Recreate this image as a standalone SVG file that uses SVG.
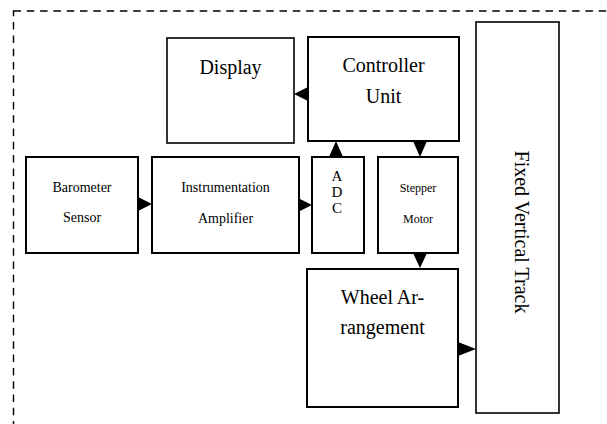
<svg xmlns="http://www.w3.org/2000/svg" width="607" height="424" viewBox="0 0 607 424">
<style>
.box{fill:#fff;stroke:#000;stroke-width:2}
.thin{stroke-width:1.6}
.t{font-family:"Liberation Serif","Times New Roman",serif;fill:#000;text-anchor:middle}
.arr{fill:#000;stroke:none}
</style>
<rect x="0" y="0" width="607" height="424" fill="#fff"/>
<rect x="13.5" y="11" width="620" height="440" fill="none" stroke="#000" stroke-width="1.4" stroke-dasharray="7.5 5.8"/>
<g id="display"><rect class="box thin" x="167" y="38" width="127" height="105"/><text class="t" x="230.5" y="74" font-size="20">Display</text></g>
<g id="controller"><rect class="box" x="308" y="37" width="151" height="104"/><text class="t" x="383.5" y="72" font-size="20">Controller</text><text class="t" x="383.5" y="103" font-size="20">Unit</text></g>
<g id="track"><rect class="box thin" x="476" y="22" width="83" height="391"/><text class="t" font-size="20" transform="translate(514.5,232) rotate(90)">Fixed Vertical Track</text></g>
<g id="barometer"><rect class="box" x="26" y="157" width="112" height="96"/><text class="t" x="82" y="192" font-size="14">Barometer</text><text class="t" x="82" y="222" font-size="14">Sensor</text></g>
<g id="amplifier"><rect class="box" x="152" y="157" width="147" height="96"/><text class="t" x="225.5" y="192" font-size="14">Instrumentation</text><text class="t" x="225.5" y="223" font-size="14">Amplifier</text></g>
<g id="adc"><rect class="box" x="312" y="157" width="52" height="96"/><text class="t" x="337" y="181" font-size="15">A</text><text class="t" x="337" y="197" font-size="15">D</text><text class="t" x="337" y="213" font-size="15">C</text></g>
<g id="stepper"><rect class="box" x="378" y="157" width="80" height="96"/><text class="t" x="418" y="192" font-size="12">Stepper</text><text class="t" x="418" y="223" font-size="12">Motor</text></g>
<g id="wheel"><rect class="box" x="307" y="269" width="151" height="138"/><text class="t" x="382.5" y="304" font-size="20">Wheel Ar-</text><text class="t" x="382.5" y="334" font-size="20">rangement</text></g>
<g id="connectors">
<polygon class="arr" points="294,94 308,87 308,101"/>
<polygon class="arr" points="336,141 329,157 343,157"/>
<polygon class="arr" points="420,157 413,141 427,141"/>
<polygon class="arr" points="152,204 138,197 138,211"/>
<polygon class="arr" points="312,205 298,198 298,212"/>
<polygon class="arr" points="420,268 413,253 427,253"/>
<polygon class="arr" points="476,349 458,342 458,356"/>
</g>
</svg>
